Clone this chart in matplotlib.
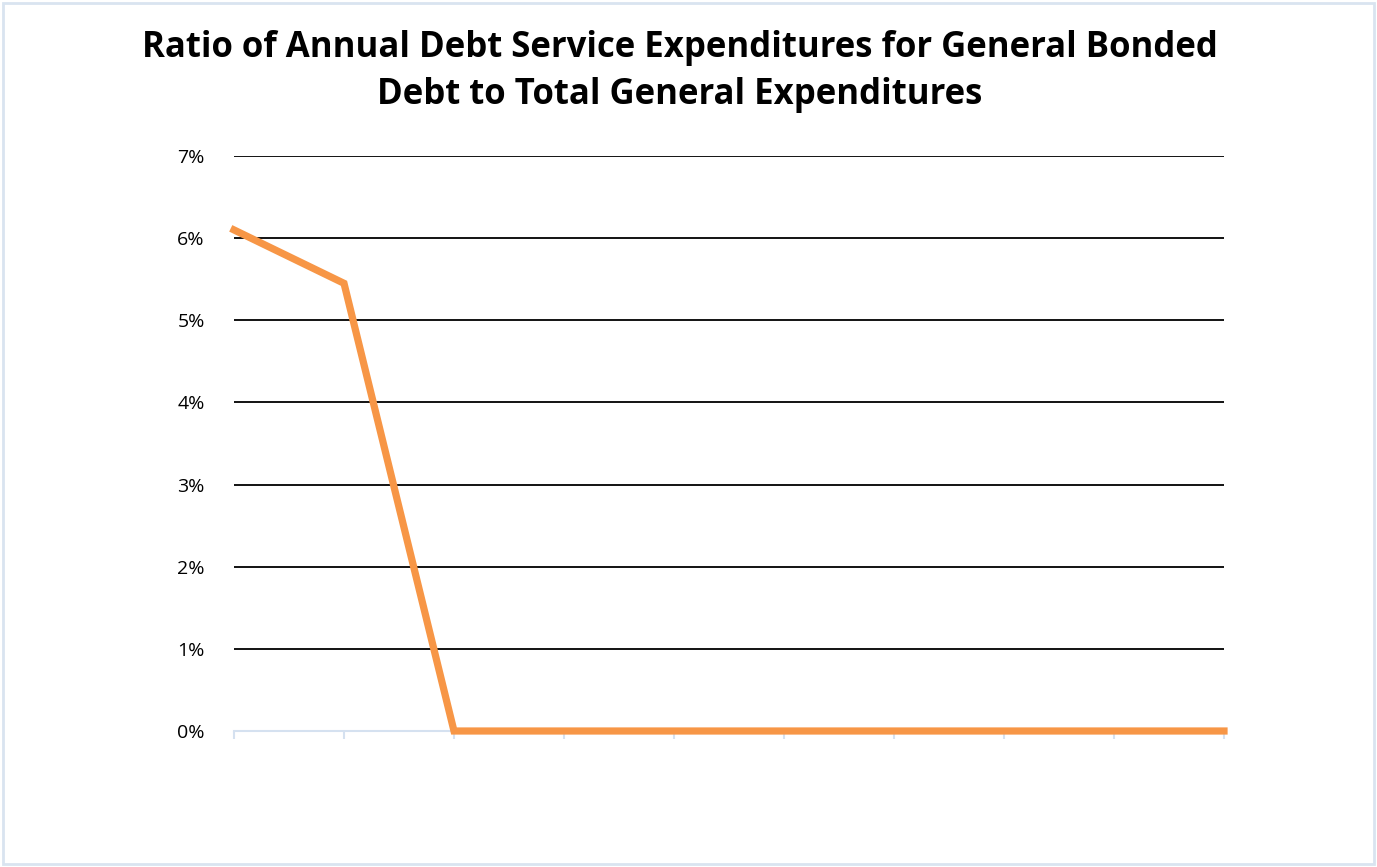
import matplotlib.pyplot as plt
from matplotlib.patches import Rectangle
from matplotlib.ticker import FuncFormatter

# ratio values (%) per year, 10 points, no x labels shown
years = list(range(10))
ratio = [6.1, 5.45, 0, 0, 0, 0, 0, 0, 0, 0]
y_ticks = [0, 1, 2, 3, 4, 5, 6, 7]

plt.rcParams["font.family"] = ["Open Sans", "DejaVu Sans"]

fig = plt.figure(figsize=(13.77, 8.67), dpi=100)
ax = fig.add_axes([234 / 1377, (867 - 731) / 867, (1224 - 234) / 1377, (731 - 156) / 867])

ax.plot(years, ratio, color="#F79646", lw=5.2, solid_joinstyle="miter", zorder=3, clip_on=False)

ax.set_xlim(0, 9)
ax.set_ylim(0, 7)
ax.set_yticks(y_ticks)
ax.yaxis.set_major_formatter(FuncFormatter(lambda v, p: f"{v:.0f}%"))
ax.set_xticks(years)
ax.set_xticklabels([])
ax.grid(axis="y", color="black", lw=1.3)
ax.set_axisbelow(True)
for s in ["top", "right", "left"]:
    ax.spines[s].set_visible(False)
ax.spines["bottom"].set_color("#D5E1F0")
ax.spines["bottom"].set_linewidth(1.5)
ax.tick_params(axis="x", length=6, width=1.5, color="#D5E1F0")
ax.tick_params(axis="y", length=0, pad=21, labelsize=14)

fig.text(680 / 1377, 0.965, "Ratio of Annual Debt Service Expenditures for General Bonded\nDebt to Total General Expenditures",
         ha="center", va="top", fontsize=25, fontweight="bold", linespacing=1.38)

fig.patches.append(Rectangle((3 / 1377, 3 / 867), 1 - 6 / 1377, 1 - 6 / 867, transform=fig.transFigure,
                             fill=False, edgecolor="#D9E4F0", lw=2))

fig.savefig("out.png", dpi=100)
